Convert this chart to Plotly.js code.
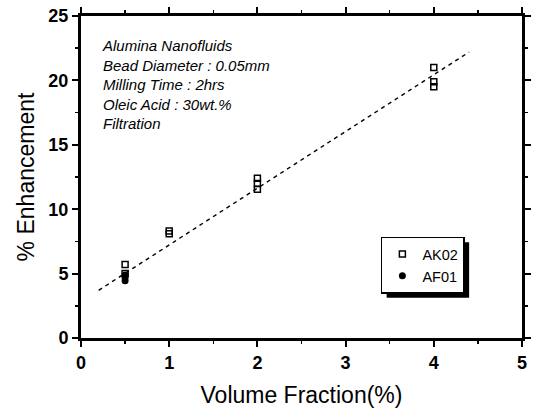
<!DOCTYPE html>
<html><head><meta charset="utf-8">
<script src="https://cdn.plot.ly/plotly-3.0.1.min.js"></script>
<style>html,body{margin:0;padding:0;background:#fff;}#chart{width:534px;height:410px;}</style>
</head><body><div id="chart"></div>
<script>
// Data
const ak02X = [0.5, 0.5, 1, 1, 2, 2, 2, 4, 4, 4];
const ak02Y = [5.7, 5.0, 8.3, 8.1, 12.4, 12.0, 11.55, 21.0, 19.9, 19.5];
const af01X = [0.5, 0.5, 0.5];
const af01Y = [4.9, 4.7, 4.45];
const fitX = [0.2, 4.4];
const fitY = [3.7, 22.2];
const xTicks = [0, 1, 2, 3, 4, 5];
const yTicks = [0, 5, 10, 15, 20, 25];
const noteLines = ["Alumina Nanofluids", "Bead Diameter : 0.05mm", "Milling Time : 2hrs", "Oleic Acid : 30wt.%", "Filtration"];

const FONT = 'Liberation Sans, Arial, sans-serif';

const traces = [
  {x: fitX, y: fitY, mode: 'lines', showlegend: false, hoverinfo: 'skip',
   line: {color: '#000', width: 1.4, dash: '4px,4px'}},
  {x: ak02X, y: ak02Y, mode: 'markers', name: 'AK02',
   marker: {symbol: 'square-open', size: 6, color: '#000', line: {width: 1.5, color: '#000'}}},
  {x: af01X, y: af01Y, mode: 'markers', name: 'AF01',
   marker: {symbol: 'circle', size: 7, color: '#000'}}
];

const axisCommon = {
  showline: true, linecolor: '#000', linewidth: 3, mirror: 'ticks',
  ticks: 'outside', ticklen: 6, tickwidth: 2, tickcolor: '#000',
  showgrid: false, zeroline: false,
  tickfont: {family: FONT, size: 18, color: '#000', weight: 'bold'}
};

const layout = {
  width: 534, height: 410,
  margin: {l: 81, r: 12, t: 16, b: 72},
  paper_bgcolor: '#fff', plot_bgcolor: '#fff',
  xaxis: Object.assign({}, axisCommon, {
    range: [0, 5], tickmode: 'array', tickvals: xTicks,
    ticktext: xTicks.map(v => '<b>' + v + '</b>'),
    minor: {dtick: 0.5, ticks: 'outside', ticklen: 3, tickwidth: 1.5, tickcolor: '#000'},
    title: {text: 'Volume Fraction(%)', standoff: 16,
            font: {family: FONT, size: 23, color: '#000'}}
  }),
  yaxis: Object.assign({}, axisCommon, {
    range: [0, 25], tickmode: 'array', tickvals: yTicks,
    ticktext: yTicks.map(v => '<b>' + v + '</b>'),
    minor: {dtick: 2.5, ticks: 'outside', ticklen: 3, tickwidth: 1.5, tickcolor: '#000'},
    title: {text: '% Enhancement', standoff: 8,
            font: {family: FONT, size: 23, color: '#000'}}
  }),
  legend: {
    x: 0.68, y: 0.315, xanchor: 'left', yanchor: 'top',
    bgcolor: '#fff', bordercolor: '#000', borderwidth: 1.5,
    font: {family: FONT, size: 14.5, color: '#000'},
    tracegroupgap: 0
  },
  shapes: [],
  annotations: [
    {xref: 'paper', yref: 'paper', x: 0.043, y: 0.94, xanchor: 'left', yanchor: 'top',
     align: 'left', showarrow: false,
     text: noteLines.map(s => '<i>' + s + '</i>').join('<br>'),
     font: {family: FONT, size: 15, color: '#000'}}
  ]
};

Plotly.newPlot('chart', traces, layout, {displayModeBar: false, staticPlot: true}).then(gd => {
  // drop shadow behind the legend box, positioned from the drawn legend
  const bg = gd.querySelector('.legend .bg');
  if (!bg) return;
  const r = bg.getBoundingClientRect();
  const sz = gd._fullLayout._size;
  const off = 5;
  const px2x = p => (p - sz.l) / sz.w;
  const px2y = p => 1 - (p - sz.t) / sz.h;
  return Plotly.relayout(gd, {shapes: [{
    type: 'rect', xref: 'paper', yref: 'paper', layer: 'above',
    x0: px2x(r.left + off), x1: px2x(r.right + off),
    y0: px2y(r.bottom + off), y1: px2y(r.top + off),
    fillcolor: '#000', line: {width: 0}
  }]});
});
</script>
</body></html>
